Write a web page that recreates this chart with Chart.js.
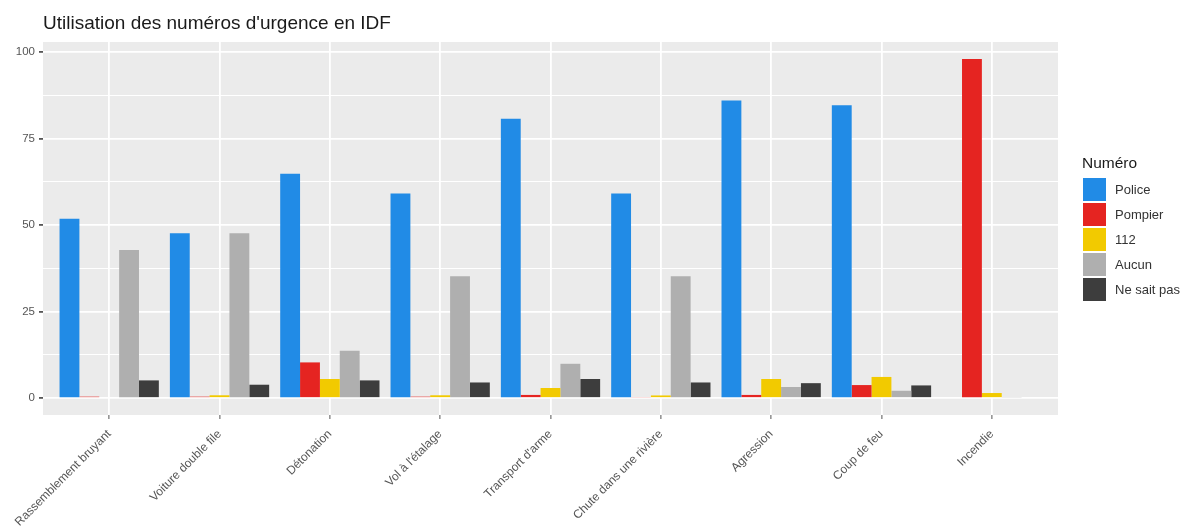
<!DOCTYPE html>
<html>
<head>
<meta charset="utf-8">
<script src="https://cdn.jsdelivr.net/npm/chart.js@4"></script>
<style>
html, body { margin: 0; padding: 0; background: #fff; }
</style>
</head>
<body>
<canvas id="chart" width="1186" height="527"></canvas>
<script>
let title = "Utilisation des numéros d'urgence en IDF"
let legend_title = 'Numéro'
let categories = [
    'Rassemblement bruyant',
    'Voiture double file',
    'Détonation',
    "Vol à l'étalage",
    "Transport d'arme",
    'Chute dans une rivière',
    'Agression',
    'Coup de feu',
    'Incendie'
]
let series_names = ['Police', 'Pompier', '112', 'Aucun', 'Ne sait pas']
let police = [51.8, 47.6, 64.8, 59.1, 80.7, 59.1, 86.0, 84.6, 0]
let pompier = [0.4, 0.4, 10.3, 0.4, 0.9, 0.3, 0.9, 3.75, 98]
let num_112 = [0, 0.8, 5.5, 0.8, 2.9, 0.75, 5.5, 6.1, 1.45]
let aucun = [42.8, 47.6, 13.7, 35.2, 9.9, 35.2, 3.2, 2.1, 0.2]
let ne_sait_pas = [5.1, 3.85, 5.1, 4.5, 5.5, 4.5, 4.3, 3.65, 0]
let y_ticks = [0, 12.5, 25, 37.5, 50, 62.5, 75, 87.5, 100]

let colors = ['#218BE6', '#E52421', '#F2CA00', '#AFAFAF', '#3D3D3D']
let font_family = "'Liberation Sans', Arial, sans-serif"

let all_series = [police, pompier, num_112, aucun, ne_sait_pas]

// grey panel, title and the legend (ggplot look)
let panel_plugin = {
    id: 'panel',
    beforeDraw(chart) {
        let ctx = chart.ctx
        let a = chart.chartArea
        ctx.save()
        ctx.fillStyle = '#fff'
        ctx.fillRect(0, 0, chart.width, chart.height)
        ctx.fillStyle = '#EBEBEB'
        ctx.fillRect(a.left, a.top, a.right - a.left, a.bottom - a.top)
        ctx.restore()
    },
    afterDraw(chart) {
        let ctx = chart.ctx
        let a = chart.chartArea
        ctx.save()
        ctx.textBaseline = 'alphabetic'
        ctx.fillStyle = '#1a1a1a'
        ctx.font = '19px ' + font_family
        ctx.fillText(title, a.left, 29)

        let lx = a.right + 25
        ctx.font = '15.5px ' + font_family
        ctx.fillText(legend_title, lx - 1, 168)

        ctx.font = '13px ' + font_family
        ctx.textBaseline = 'middle'
        chart.data.datasets.forEach((ds, k) => {
            let y = 178 + k * 25
            ctx.fillStyle = ds.backgroundColor
            ctx.fillRect(lx, y, 23, 23)
            ctx.fillStyle = '#333'
            ctx.fillText(ds.label, lx + 32, y + 12)
        })
        ctx.restore()
    }
}

let chart = new Chart(document.getElementById('chart').getContext('2d'), {
    type: 'bar',
    data: {
        datasets: all_series.map((s, k) => ({
            label: series_names[k],
            backgroundColor: colors[k],
            borderWidth: 0,
            categoryPercentage: 0.9,
            barPercentage: 1,
            data: s.map((v, i) => ({ x: i, y: v }))
        }))
    },
    options: {
        responsive: false,
        animation: false,
        layout: { padding: { left: 0, right: 128, top: 42, bottom: 0 } },
        plugins: {
            legend: { display: false },
            title: { display: false },
            tooltip: { enabled: false }
        },
        scales: {
            x: {
                type: 'linear',
                min: -0.6,
                max: 8.6,
                offset: false,
                afterBuildTicks: (scale) => { scale.ticks = categories.map((c, i) => ({ value: i })) },
                afterFit: (scale) => { scale.height = 112 },
                border: { display: false },
                grid: { offset: false, color: '#fff', lineWidth: 1.8, tickColor: '#555', tickWidth: 1, tickLength: 4 },
                ticks: {
                    autoSkip: false,
                    minRotation: 45,
                    maxRotation: 45,
                    padding: 8,
                    color: '#555',
                    font: { family: font_family, size: 12 },
                    callback: (v) => categories[v]
                }
            },
            y: {
                min: -4.9,
                max: 102.9,
                afterBuildTicks: (scale) => { scale.ticks = y_ticks.map(v => ({ value: v })) },
                afterFit: (scale) => { scale.width = 43 },
                border: { display: false },
                grid: {
                    color: '#fff',
                    lineWidth: (ctx) => (ctx.tick && ctx.tick.value % 25) ? 1 : 1.8,
                    tickColor: (ctx) => (ctx.tick && ctx.tick.value % 25) ? 'rgba(0,0,0,0)' : '#555',
                    tickLength: 4
                },
                ticks: {
                    padding: 4,
                    color: '#555',
                    font: { family: font_family, size: 11.5 },
                    callback: (v) => v % 25 == 0 ? v : ''
                }
            }
        }
    },
    plugins: [panel_plugin]
})
</script>
</body>
</html>
